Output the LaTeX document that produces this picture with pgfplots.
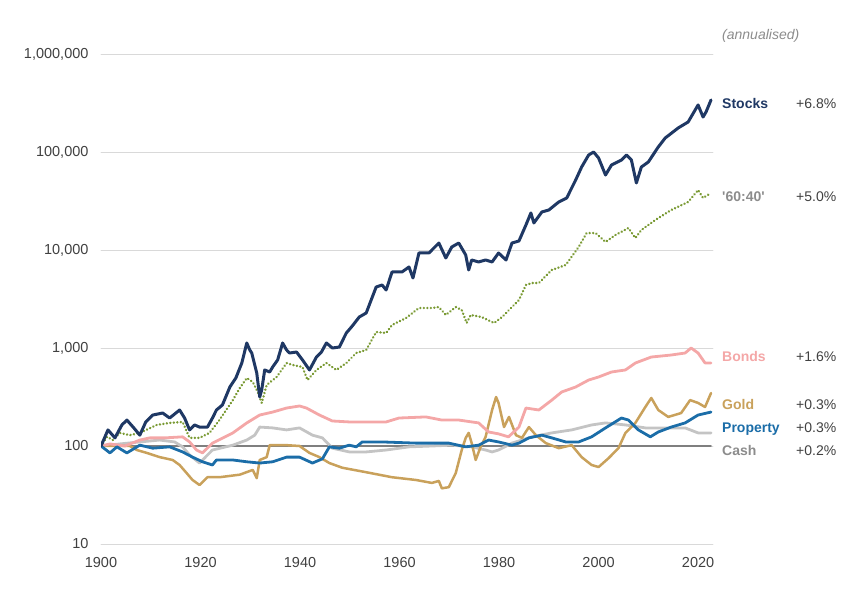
\documentclass[border=0pt]{standalone}
\usepackage{pgfplots}
\pgfplotsset{compat=1.18}
\usepackage{fontspec}
\setmainfont{Liberation Sans}

\definecolor{stocks}{RGB}{31,56,100}
\definecolor{sixty}{RGB}{122,154,52}
\definecolor{bonds}{RGB}{244,167,167}
\definecolor{gold}{RGB}{201,161,91}
\definecolor{prop}{RGB}{27,109,168}
\definecolor{cash}{RGB}{196,196,196}
\definecolor{base}{RGB}{127,127,127}
\definecolor{labgray}{RGB}{140,140,140}
\definecolor{ticktext}{RGB}{64,64,64}

\begin{document}
\begin{tikzpicture}
\path[use as bounding box] (0,0) rectangle (864pt,605pt);
\begin{axis}[
  at={(101pt,61pt)}, anchor=south west,
  scale only axis,
  width=612pt, height=490pt,
  ymode=log,
  xmin=1900, xmax=2023,
  ymin=10, ymax=1000000,
  axis line style={draw=none},
  tick style={draw=none},
  major tick length=0pt, minor tick length=0pt,
  yminorticks=false, xminorticks=false,
  ytick={10,100,1000,10000,100000,1000000},
  yticklabels={10,100,{1,000},{10,000},{100,000},{1,000,000}},
  xtick={1900,1920,1940,1960,1980,2000,2020},
  xticklabels={1900,1920,1940,1960,1980,2000,2020},
  ymajorgrids,
  major grid style={color=black!15, line width=0.9pt},
  ticklabel style={font=\fontsize{14.5}{16}\selectfont, text=ticktext},
  yticklabel style={xshift=-9pt},
  xticklabel style={yshift=-10pt},
  line join=round, line cap=round,
]
% baseline at 100
\addplot[base, line width=1.6pt] coordinates {(1900,100) (2022.6,100)};
% Cash
\addplot[cash, line width=2.8pt] coordinates {
(1900,100) (1903.8,105) (1907.8,110) (1911.8,115) (1914.8,110) (1916.4,98)
(1917.8,81) (1919.8,67) (1922.4,91) (1926.5,102) (1929.3,115) (1930.9,129)
(1931.9,156) (1934.5,153) (1937.3,146) (1939.9,153) (1942.5,129) (1944.5,121)
(1946.5,95) (1949.9,87) (1953.3,87) (1957.3,91) (1961.9,98) (1966.5,100)
(1970.5,102) (1974.5,98) (1977.3,91) (1978.6,87) (1979.9,91) (1982.6,107)
(1986.6,124) (1990.6,136) (1994.6,146) (1998.6,164) (2001.4,172) (2005.4,164)
(2009.4,153) (2013.4,153) (2017.4,153) (2020.0,136) (2022.6,136)
};
% Gold
\addplot[gold, line width=2.5pt] coordinates {
(1900,100) (1905.8,100) (1907.2,91) (1909.2,85) (1911.8,77) (1914.4,72)
(1915.8,64) (1917.2,53) (1918.4,45) (1919.8,40) (1921.4,48) (1923.8,48)
(1927.9,51) (1930.5,57) (1931.3,47) (1931.9,72) (1933.3,77) (1933.9,102)
(1937.3,102) (1939.9,100) (1941.9,85) (1943.9,77) (1945.9,67) (1948.5,60)
(1953.3,54) (1958.5,48) (1963.3,45) (1966.5,42) (1967.9,44) (1968.5,37)
(1969.9,38) (1971.3,53) (1972.5,91) (1973.3,121) (1973.9,136) (1974.5,107)
(1975.3,72) (1976.3,98) (1977.3,124) (1978.6,233) (1979.4,316) (1979.9,275)
(1981.0,156) (1982.0,198) (1983.4,129) (1984.6,121) (1986.0,156) (1987.4,129)
(1989.4,107) (1992.0,95) (1994.6,102) (1996.6,77) (1998.6,64) (2000.0,61)
(2002.0,75) (2004.0,95) (2005.4,136) (2007.4,172) (2009.4,250) (2010.6,309)
(2012.0,233) (2014.0,198) (2016.6,217) (2018.4,294) (2020.0,275) (2021.4,250)
(2022.6,347)
};
% Bonds
\addplot[bonds, line width=2.8pt] coordinates {
(1900,100) (1901.8,105) (1904.8,100) (1907.8,115) (1909.8,121) (1912.8,121)
(1916.4,124) (1917.8,110) (1919.2,91) (1920.4,85) (1922.4,107) (1926.5,136)
(1929.3,172) (1931.9,207) (1934.5,222) (1937.3,244) (1939.9,256) (1941.3,244)
(1943.9,207) (1946.5,180) (1949.9,176) (1953.3,176) (1957.3,176) (1959.9,193)
(1965.3,198) (1968.5,184) (1971.9,184) (1975.9,172) (1977.9,139) (1979.9,133)
(1981.9,124) (1984.0,156) (1985.4,244) (1988.0,233) (1990.6,294) (1992.6,356)
(1995.4,400) (1998.0,471) (2000.0,506) (2002.6,569) (2005.4,597) (2007.4,703)
(2010.6,809) (2014.6,848) (2017.4,889) (2018.6,1000) (2020.0,889) (2021.4,703)
(2022.6,703)
};
% Property
\addplot[prop, line width=2.8pt] coordinates {
(1900,100) (1901.8,85) (1903.2,98) (1905.2,85) (1907.8,102) (1910.4,95)
(1913.8,98) (1916.4,87) (1918.4,77) (1920.4,69) (1922.4,64) (1923.2,72)
(1926.5,72) (1929.3,69) (1931.9,67) (1934.5,69) (1937.3,77) (1939.9,77)
(1942.5,67) (1944.5,74) (1945.9,98) (1947.9,95) (1949.9,102) (1951.3,98)
(1952.5,110) (1956.5,110) (1963.3,107) (1969.9,107) (1973.3,98) (1975.9,102)
(1977.9,115) (1979.9,110) (1982.6,102) (1984.0,107) (1986.0,121) (1988.6,129)
(1990.6,121) (1993.4,110) (1996.0,110) (1998.6,124) (2001.4,153) (2004.6,193)
(2006.0,184) (2008.0,146) (2010.4,124) (2012.0,139) (2014.6,156) (2017.4,172)
(2020.0,207) (2022.6,222)
};
% 60:40
\addplot[sixty, line width=2.6pt, dash pattern=on 0.1pt off 3.4pt] coordinates {
(1900,100) (1901.2,124) (1902.4,115) (1903.8,136) (1905.8,129) (1907.8,136)
(1911.2,164) (1913.8,172) (1916.4,176) (1917.8,121) (1919.8,121) (1921.8,136)
(1923.8,184) (1926.5,294) (1927.9,391) (1929.3,494) (1930.5,450) (1931.5,356)
(1932.3,275) (1933.3,419) (1935.3,506) (1937.3,703) (1938.5,671) (1940.5,640)
(1941.5,471) (1943.3,597) (1945.3,703) (1947.3,597) (1949.3,703) (1951.3,889)
(1953.3,955) (1955.3,1456) (1957.3,1422) (1958.5,1717) (1961.3,2023) (1963.9,2559)
(1966.5,2559) (1967.9,2618) (1969.3,2173) (1971.3,2618) (1972.5,2443) (1973.5,1799)
(1974.3,2173) (1976.5,2070) (1979.0,1799) (1980.6,2070) (1982.6,2618) (1984.0,3090)
(1985.4,4395) (1986.6,4603) (1988.0,4603) (1990.6,6250) (1993.4,7030) (1996.0,10740)
(1997.6,14900) (1999.4,14900) (2001.4,12080) (2003.4,14220) (2006.0,16750) (2007.4,13250)
(2008.6,16000) (2011.4,20230) (2014.6,25590) (2018.0,30900) (2020.0,40930) (2021.0,33960)
(2022.6,38190)
};
% Stocks
\addplot[stocks, line width=3pt] coordinates {
(1900,100) (1901.4,146) (1902.8,121) (1904.2,164) (1905.2,184) (1906.6,153)
(1907.8,129) (1909.0,176) (1910.4,207) (1912.4,217) (1913.8,193) (1915.8,233)
(1916.8,193) (1917.8,146) (1918.8,164) (1919.8,156) (1921.4,156) (1922.4,193)
(1923.2,233) (1924.4,262) (1925.9,400) (1927.1,494) (1928.3,703) (1929.3,1125)
(1929.9,955) (1930.3,889) (1931.3,556) (1931.9,316) (1932.3,373) (1932.9,597)
(1933.9,569) (1934.5,640) (1935.5,755) (1936.5,1125) (1937.3,955) (1937.9,889)
(1939.3,910) (1940.5,755) (1941.9,597) (1943.3,809) (1944.3,910) (1945.3,1125)
(1946.5,1000) (1947.9,1023) (1949.3,1422) (1950.5,1676) (1951.9,2070) (1953.3,2276)
(1954.3,3090) (1955.3,4190) (1956.5,4395) (1957.3,3908) (1958.5,5970) (1960.5,5970)
(1961.9,6710) (1962.7,5180) (1963.9,9320) (1965.9,9320) (1966.5,10000) (1967.9,11780)
(1969.3,8290) (1970.5,10740) (1971.9,11780) (1973.3,8890) (1973.9,6250) (1974.5,7910)
(1975.9,7550) (1977.3,7910) (1978.6,7550) (1979.9,9320) (1981.4,7910) (1982.6,11780)
(1984.0,12360) (1985.4,17990) (1986.4,23870) (1987.0,18880) (1988.6,24430) (1990.0,25590)
(1992.0,30900) (1993.6,33960) (1995.4,51800) (1996.6,70310) (1998.0,93100) (1999.0,100000)
(2000.0,86900) (2001.4,58210) (2002.6,73650) (2004.6,82800) (2005.6,93100) (2006.6,82800)
(2007.6,48310) (2008.6,70310) (2010.0,79070) (2012.0,112500) (2013.4,139000) (2016.0,175800)
(2018.0,202300) (2020.0,302000) (2021.0,227500) (2021.6,255900) (2022.6,339600)
};
\end{axis}
% right-hand labels
\begin{scope}[every node/.style={anchor=base west, inner sep=0pt, font=\fontsize{14}{16}\selectfont}]
\node[text=labgray, font=\fontsize{14}{16}\selectfont\itshape] at (722pt,565pt) {(annualised)};
\node[text=stocks, font=\fontsize{14}{16}\selectfont\bfseries] at (722pt,496pt) {Stocks};
\node[text=labgray, font=\fontsize{14}{16}\selectfont\bfseries] at (722pt,403pt) {\textquotesingle 60:40\textquotesingle};
\node[text=bonds, font=\fontsize{14}{16}\selectfont\bfseries] at (722pt,243pt) {Bonds};
\node[text=gold, font=\fontsize{14}{16}\selectfont\bfseries] at (722pt,195pt) {Gold};
\node[text=prop, font=\fontsize{14}{16}\selectfont\bfseries] at (722pt,172pt) {Property};
\node[text=labgray, font=\fontsize{14}{16}\selectfont\bfseries] at (722pt,149pt) {Cash};
\node[text=ticktext] at (796pt,496pt) {+6.8\%};
\node[text=ticktext] at (796pt,403pt) {+5.0\%};
\node[text=ticktext] at (796pt,243pt) {+1.6\%};
\node[text=ticktext] at (796pt,195pt) {+0.3\%};
\node[text=ticktext] at (796pt,172pt) {+0.3\%};
\node[text=ticktext] at (796pt,149pt) {+0.2\%};
\end{scope}
\end{tikzpicture}
\end{document}
